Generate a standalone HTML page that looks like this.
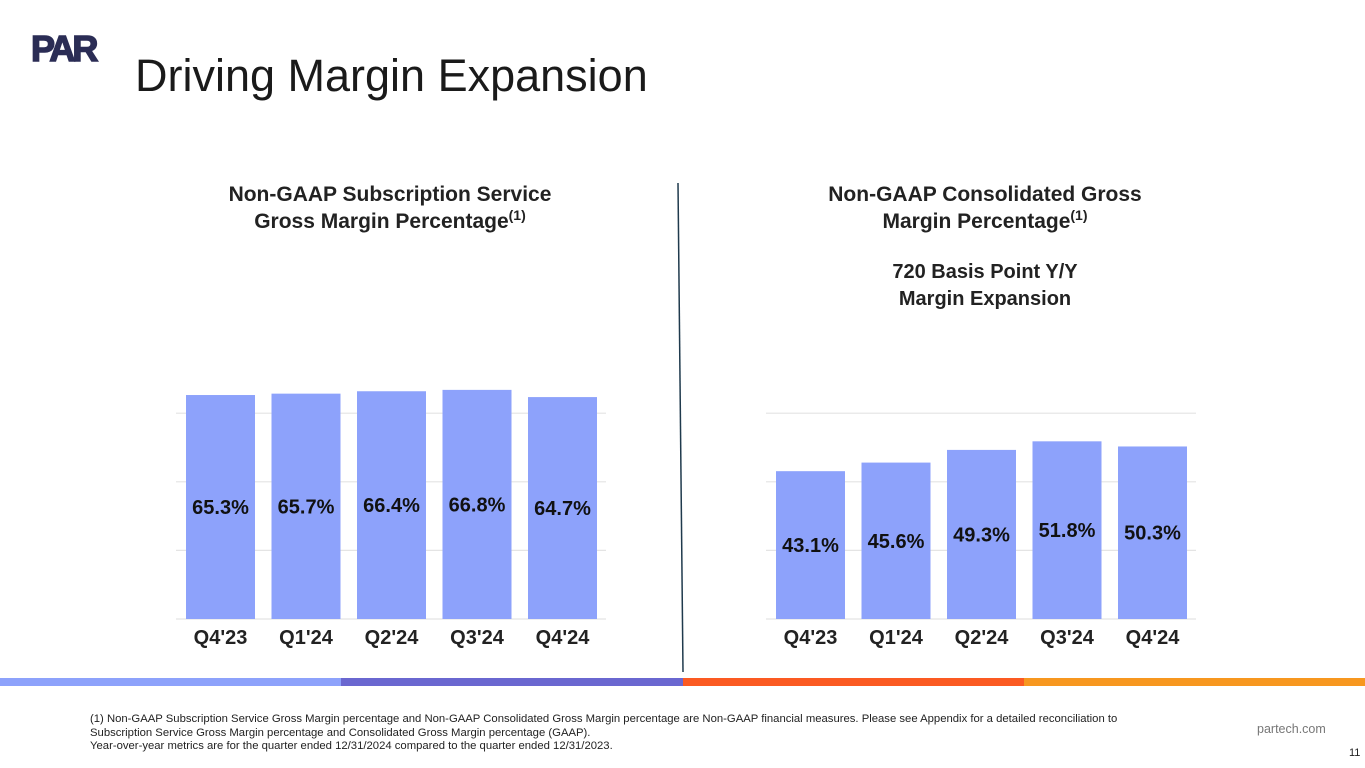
<!DOCTYPE html>
<html><head><meta charset="utf-8"><style>
body{margin:0;width:1365px;height:768px;background:#fff;font-family:"Liberation Sans",Arial,sans-serif;position:relative;overflow:hidden}
.abs{position:absolute}
.t{font-weight:bold;font-size:21px;color:#222;text-align:center;line-height:27px}
sup{font-size:14px;line-height:0;vertical-align:8px}
</style></head><body>
<div class="abs" style="left:31px;top:28px;font-size:36px;font-weight:900;color:#2b2d55;letter-spacing:-3px;-webkit-text-stroke:1.5px #2b2d55">PAR</div>
<div class="abs" style="left:135px;top:50px;font-size:45px;color:#1a1a1a">Driving Margin Expansion</div>
<div class="abs t" style="left:180px;top:181px;width:420px">Non-GAAP Subscription Service<br>Gross Margin Percentage<sup>(1)</sup></div>
<div class="abs t" style="left:770px;top:181px;width:430px">Non-GAAP Consolidated Gross<br>Margin Percentage<sup>(1)</sup></div>
<div class="abs t" style="left:770px;top:259px;width:430px;font-size:20px">720 Basis Point Y/Y<br>Margin Expansion</div>
<svg class="abs" style="left:0;top:0" width="1365" height="768">
<line x1="678" y1="183" x2="683" y2="672" stroke="#1f3a4d" stroke-width="1.5"/>
<g id="c1"></g><g id="c2"></g>
</svg>
<div class="abs" style="left:0;top:678px;width:1365px;height:8px;display:flex">
<div style="flex:1;background:#8da2fb"></div><div style="flex:1;background:#6a67d0"></div><div style="flex:1;background:#fb5a22"></div><div style="flex:1;background:#f7971f"></div></div>
<div class="abs" style="left:90px;top:713px;font-size:11.3px;line-height:13.5px;color:#222">(1) Non-GAAP Subscription Service Gross Margin percentage and Non-GAAP Consolidated Gross Margin percentage are Non-GAAP financial measures. Please see Appendix for a detailed reconciliation to<br>Subscription Service Gross Margin percentage and Consolidated Gross Margin percentage (GAAP).<br>Year-over-year metrics are for the quarter ended 12/31/2024 compared to the quarter ended 12/31/2023.</div>
<div class="abs" style="left:1257px;top:722px;font-size:12.5px;color:#777">partech.com</div>
<div class="abs" style="left:1349px;top:747px;font-size:11px;color:#222">11</div>
<script>
const categories=["Q4'23","Q1'24","Q2'24","Q3'24","Q4'24"];
const subscriptionValues=[65.3,65.7,66.4,66.8,64.7];
const consolidatedValues=[43.1,45.6,49.3,51.8,50.3];
const gridTicks=[0,20,40,60];
const NS="http://www.w3.org/2000/svg";
function yScale(v){return 619-v*3.43;}
function draw(gid,x0,vals){
  const g=document.getElementById(gid);
  const step=85.5,bw=69;
  gridTicks.forEach(t=>{
    const l=document.createElementNS(NS,'line');
    l.setAttribute('x1',x0-10);l.setAttribute('x2',x0+420);
    l.setAttribute('y1',yScale(t));l.setAttribute('y2',yScale(t));
    l.setAttribute('stroke','#e4e4e4');l.setAttribute('stroke-width','1.2');
    
    
    g.appendChild(l);
  });
  vals.forEach((v,i)=>{
    const x=x0+i*step;
    const r=document.createElementNS(NS,'rect');
    r.setAttribute('x',x);r.setAttribute('y',yScale(v));r.setAttribute('width',bw);r.setAttribute('height',619-yScale(v));
    r.setAttribute('fill','#8da2fb');
    
    
    g.appendChild(r);
    const t=document.createElementNS(NS,'text');
    t.setAttribute('x',x+bw/2);t.setAttribute('y',(yScale(v)+619)/2+7);
    t.setAttribute('text-anchor','middle');t.setAttribute('font-size','20');t.setAttribute('font-weight','bold');
    t.setAttribute('font-family','Liberation Sans, sans-serif');t.setAttribute('fill','#111');
    t.textContent=v.toFixed(1)+'%';
    
    
    g.appendChild(t);
    const c=document.createElementNS(NS,'text');
    c.setAttribute('x',x+bw/2);c.setAttribute('y',644);
    c.setAttribute('text-anchor','middle');c.setAttribute('font-size','20');c.setAttribute('font-weight','bold');
    c.setAttribute('font-family','Liberation Sans, sans-serif');c.setAttribute('fill','#222');
    c.textContent=categories[i];
    
    
    g.appendChild(c);
  });
}
draw('c1',186,subscriptionValues);
draw('c2',776,consolidatedValues);
</script>
</body></html>
